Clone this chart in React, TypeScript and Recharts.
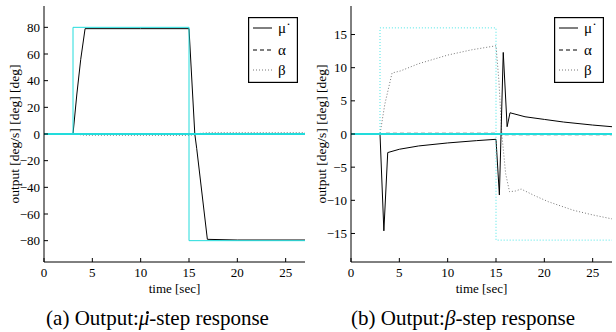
import { LineChart, Line, XAxis, YAxis, Legend } from "recharts"

type Pt = { t: number; v: number }
const pts = (rows: number[][]): Pt[] => rows.map(([t, v]) => ({ t, v }))

const FONT = "'Liberation Serif', 'Times New Roman', serif"
const CYAN = "#22dcdc"

const timeTicks = [0, 5, 10, 15, 20, 25]
const ticksA = [-80, -60, -40, -20, 0, 20, 40, 60, 80]
const ticksB = [-15, -10, -5, 0, 5, 10, 15]

// (a) mu-dot step
const muA = pts([[0, 0], [3, 0], [3.4, 30], [3.8, 56], [4.25, 79], [10, 79], [15, 79], [15.6, 0], [15.8, -11], [16.9, -79], [20, -79.5], [27, -79.5]])
const alphaA = pts([[0, 0], [3, 0], [3.6, 0.2], [15, 0.2], [15.6, -0.2], [27, -0.2]])
const betaA = pts([[0, 0], [3, 0], [3.5, -0.3], [4.2, -0.9], [15, -1], [15.5, -0.6], [16.2, 0.5], [17, 1], [27, 1]])
const stepA = pts([[0, 0], [3, 0], [3, 80], [15, 80], [15, -80], [27, -80]])
const zeroA = pts([[0, 0], [27, 0]])

// (b) beta step
const muB = pts([[0, 0], [3, 0], [3.4, -14.6], [3.8, -2.8], [5, -2.3], [7, -1.8], [10, -1.35], [13, -1.0], [15, -0.8], [15.35, -9.2], [15.75, 12.3], [16.15, 1.1], [16.45, 3.2], [18, 2.6], [20, 2.2], [22, 1.8], [25, 1.35], [27, 1.1]])
const alphaB = pts([[0, 0], [3, 0], [3.5, 0.1], [15, 0.1], [15.5, -0.1], [27, -0.1]])
const betaB = pts([[0, 0], [3, 0], [3.5, 4.5], [4.25, 9.2], [5.1, 9.5], [7, 10.6], [10, 11.9], [12.5, 12.7], [15, 13.3], [15.3, 8], [15.6, 0], [16, -6], [16.4, -8.7], [17, -8.6], [17.6, -8.3], [19, -9.3], [20.4, -10.2], [23, -11.5], [25, -12.2], [27, -12.8]])
const stepB = pts([[0, 0], [3, 0], [3, 16], [15, 16], [15, -16], [27, -16]])
const zeroB = pts([[0, 0], [27, 0]])

type Series = { data: Pt[]; stroke: string; width?: number; dash?: string }

const seriesA: Series[] = [
  { data: betaA, stroke: "#777", dash: "1 2" },
  { data: alphaA, stroke: "#000", dash: "4 3" },
  { data: muA, stroke: "#000" },
  { data: stepA, stroke: CYAN },
  { data: zeroA, stroke: CYAN, width: 1.8 },
]

const seriesB: Series[] = [
  { data: betaB, stroke: "#777", dash: "1 2" },
  { data: alphaB, stroke: "#000", dash: "4 3" },
  { data: muB, stroke: "#000" },
  { data: stepB, stroke: "#4ae6e6", dash: "1 2" },
  { data: zeroB, stroke: CYAN, width: 1.8 },
]

const legendRows = [
  { name: "μ\u02D9", dash: undefined, stroke: "#000" },
  { name: "α", dash: "4 3", stroke: "#000" },
  { name: "β", dash: "1 2", stroke: "#777" },
]

function LegendBox() {
  const rowY = [11, 33, 53]
  return (
    <svg width={50} height={66} style={{ display: "block" }}>
      <rect x={0.6} y={0.6} width={48.8} height={64.8} fill="#fff" stroke="#000" strokeWidth={1.2} />
      {legendRows.map((r, i) => (
        <g key={r.name}>
          <line x1={5} x2={24} y1={rowY[i]} y2={rowY[i]} stroke={r.stroke} strokeDasharray={r.dash} />
          <text x={30} y={rowY[i] + 5} fontSize={15} fontFamily={FONT} fill="#000">{r.name}</text>
        </g>
      ))}
    </svg>
  )
}

const tickStyle = { fill: "#000", fontSize: 13, fontFamily: FONT }
const noTick = () => <g />
const minus = (v: number) => String(v).replace("-", "\u2212")

function Panel({ series, domain, ticks, yWidth, right }: { series: Series[]; domain: number[]; ticks: number[]; yWidth: number; right: number }) {
  return (
    <LineChart width={310} height={298} margin={{ top: 6, right, bottom: 0, left: 0 }} style={{ fontFamily: FONT }}>
      <XAxis dataKey="t" type="number" domain={[0, 27]} ticks={timeTicks} allowDataOverflow interval={0}
        height={36} tickSize={-4} tickMargin={10} stroke="#000" tick={tickStyle}
        label={{
          content: (p: any) => (
            <text x={p.viewBox.x + p.viewBox.width / 2} y={p.viewBox.y + 31} textAnchor="middle" fontSize={13} fontFamily={FONT} fill="#000">time [sec]</text>
          ),
        }} />
      <XAxis xAxisId="top" orientation="top" dataKey="t" type="number" domain={[0, 27]} ticks={timeTicks} allowDataOverflow interval={0}
        height={0} tickSize={-4} stroke="#000" tick={noTick} />
      <YAxis type="number" domain={domain} ticks={ticks} allowDataOverflow interval={0} width={yWidth}
        tickSize={-4} tickMargin={8} stroke="#000" tick={tickStyle} tickFormatter={minus}
        label={{
          content: (p: any) => (
            <text transform={`translate(${p.viewBox.x + p.viewBox.width - 25}, ${p.viewBox.y + p.viewBox.height / 2}) rotate(-90)`}
              textAnchor="middle" fontSize={13.5} fontFamily={FONT} fill="#000">output [deg/s] [deg] [deg]</text>
          ),
        }} />
      <YAxis yAxisId="r" orientation="right" type="number" domain={domain} ticks={ticks} allowDataOverflow interval={0}
        width={0} tickSize={-4} stroke="#000" tick={noTick} />
      {series.map((s, i) => (
        <Line key={i} data={s.data} dataKey="v" type="linear" stroke={s.stroke} strokeWidth={s.width ?? 1}
          strokeDasharray={s.dash} dot={false} activeDot={false} isAnimationActive={false} />
      ))}
      <Legend layout="vertical" align="center" verticalAlign="middle" content={() => <LegendBox />}
        wrapperStyle={{ left: 248, top: 17, width: 50, height: 66 }} />
    </LineChart>
  )
}

const captionStyle = {
  position: "absolute" as const,
  top: 308,
  fontSize: 21,
  lineHeight: "21px",
  fontFamily: FONT,
  textAlign: "center" as const,
  color: "#000",
}

// italic mu with a small round dot drawn above it
function MuDot() {
  return (
    <span style={{ position: "relative", display: "inline-block", fontStyle: "italic" }}>
      μ
      <span style={{ position: "absolute", left: 7, top: 3, width: 3, height: 3, borderRadius: "50%", background: "#000" }} />
    </span>
  )
}

export default function App() {
  return (
    <div style={{ position: "absolute", left: 0, top: 0, width: 616, height: 332, background: "#fff", overflow: "hidden", fontFamily: FONT }}>
      <div style={{ position: "absolute", left: 0, top: 0 }}>
        <Panel series={seriesA} domain={[-96, 96]} ticks={ticksA} yWidth={44} right={5} />
      </div>
      <div style={{ position: "absolute", left: 306, top: 0 }}>
        <Panel series={seriesB} domain={[-19.3, 19.3]} ticks={ticksB} yWidth={45} right={4} />
      </div>
      <div style={{ ...captionStyle, left: 0, width: 315 }}>
        (a) Output:<MuDot />-step response
      </div>
      <div style={{ ...captionStyle, left: 310, width: 306 }}>
        (b) Output:<i>β</i>-step response
      </div>
    </div>
  )
}
